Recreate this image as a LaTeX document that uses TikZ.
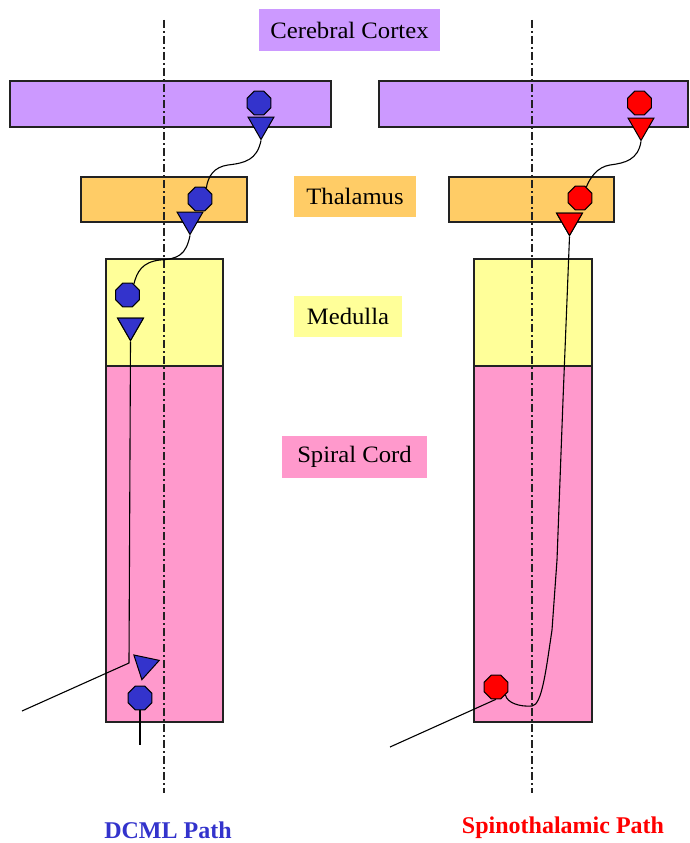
\documentclass[tikz,border=0pt]{standalone}
\usepackage{fontspec}
\setmainfont{Liberation Serif}
\newfontfamily\tagfont[FakeStretch=1.05]{Liberation Serif}
\usetikzlibrary{shapes.geometric}
\definecolor{cortexc}{HTML}{CC99FF}
\definecolor{thalc}{HTML}{FFCC66}
\definecolor{medc}{HTML}{FFFF99}
\definecolor{spinc}{HTML}{FF99CC}
\definecolor{dcml}{HTML}{3333CC}
\definecolor{spino}{HTML}{FF0000}
\definecolor{edgec}{HTML}{222222}
\begin{document}
\begin{tikzpicture}[x=1pt,y=-1pt,
 region/.style={draw=edgec, line width=1.2pt, rectangle, inner sep=0pt},
 tag/.style={rectangle, inner sep=0pt, font=\tagfont\fontsize{23.5}{26}\selectfont, text=black},
 midline/.style={draw=edgec, line width=1.1pt, dash pattern=on 8pt off 3pt on 2pt off 3pt},
 fibre/.style={draw=black, line width=1.1pt},
 soma/.style={regular polygon, regular polygon sides=8, minimum size=25.5pt, inner sep=0pt, draw=black, line width=1pt},
 term/.style={regular polygon, regular polygon sides=3, shape border rotate=180, minimum size=30pt, inner sep=0pt, draw=black, line width=1pt},
 pathlabel/.style={inner sep=0pt, font=\bfseries\fontsize{24}{26}\selectfont}
 ]
\useasboundingbox (0,0) rectangle (689,843);
\fill[white] (0,0) rectangle (689,843);

% brain regions
\node[region, fill=cortexc, minimum width=321pt, minimum height=46pt] (cortexL) at (170.5,104) {};
\node[region, fill=cortexc, minimum width=309pt, minimum height=46pt] (cortexR) at (533.5,104) {};
\node[region, fill=thalc, minimum width=166pt, minimum height=45pt] (thalL) at (164,199.5) {};
\node[region, fill=thalc, minimum width=165pt, minimum height=45pt] (thalR) at (531.5,199.5) {};
\node[region, fill=spinc, minimum width=117pt, minimum height=356pt] (spinL) at (164.5,544) {};
\node[region, fill=spinc, minimum width=118pt, minimum height=356pt] (spinR) at (533,544) {};
\node[region, fill=medc, minimum width=117pt, minimum height=107pt] (medL) at (164.5,312.5) {};
\node[region, fill=medc, minimum width=118pt, minimum height=107pt] (medR) at (533,312.5) {};

% labels
\node[tag, fill=cortexc, minimum width=181pt, minimum height=42pt] (lcortex) at (349.5,30) {Cerebral Cortex};
\node[tag, fill=thalc, minimum width=122pt, minimum height=41pt] (lthal) at (355,196.5) {Thalamus};
\node[tag, fill=medc, minimum width=108pt, minimum height=41pt] (lmed) at (348,316.5) {Medulla};
\node[tag, fill=spinc, minimum width=145pt, minimum height=42pt] (lspin) at (354.5,457) {Spiral Cord};

% midlines
\coordinate (mLt) at (164,20);
\coordinate (mLb) at (164,793);
\coordinate (mRt) at (532,20);
\coordinate (mRb) at (532,793);
\draw[midline] (mLt) -- (mLb);
\draw[midline] (mRt) -- (mRb);

% DCML neurons
\node[term, fill=dcml] (bt1) at (261,124.5) {};
\node[soma, fill=dcml] (bc1) at (259,103) {};
\node[term, fill=dcml] (bt2) at (190,219.5) {};
\node[soma, fill=dcml] (bc2) at (200,199) {};
\node[term, fill=dcml] (bt3) at (130.5,325.5) {};
\node[soma, fill=dcml] (bc3) at (127.5,295) {};
\node[term, fill=dcml, rotate=-12] (bt4) at (145,665) {};
\node[soma, fill=dcml] (bc4) at (140,698) {};

% spinothalamic neurons
\node[term, fill=spino] (rt1) at (641,125.5) {};
\node[soma, fill=spino] (rc1) at (639.5,103) {};
\node[term, fill=spino] (rt2) at (569.5,220.5) {};
\node[soma, fill=spino] (rc2) at (580,198) {};
\node[soma, fill=spino] (rc3) at (496,687) {};

% DCML fibres
\coordinate (k1) at (228,165);
\coordinate (k2) at (160,260);
\coordinate (k3) at (129,663);
\coordinate (k4) at (22,711);
\coordinate (k5) at (140,745);
\draw[fibre] (bt1.corner 1) .. controls (257,160) and (245,163) .. (k1)
  .. controls (214,167) and (208,176) .. (bc2.60);
\draw[fibre] (bt2.corner 1) .. controls (186,255) and (178,259) .. (k2)
  .. controls (142,262) and (137,272) .. (bc3.60);
\draw[fibre] (bt3.corner 1) -- (k3) -- (k4);
\draw[fibre] (bc4.south) -- (k5);

% spinothalamic fibres
\coordinate (r1) at (610,165);
\coordinate (r2) at (567,300);
\coordinate (r3) at (563,400);
\coordinate (r4) at (557,560);
\coordinate (r5) at (552,630);
\coordinate (r6) at (532,706);
\coordinate (r7) at (390,747);
\draw[fibre] (rt1.corner 1) .. controls (638,160) and (625,163) .. (r1)
  .. controls (597,167) and (590,178) .. (rc2.60);
\draw[fibre] (rt2.corner 1) -- (r2) -- (r3) -- (r4) -- (r5)
  .. controls (546,670) and (542,705) .. (r6)
  .. controls (520,707) and (507,703) .. (rc3.-40);
\draw[fibre] (rc3.south) -- (r7);

% redraw neuron markers on top of fibres
\node[term, fill=dcml] at (bt3) {};
\node[term, fill=spino] at (rt2) {};

% path titles
\node[pathlabel, text=dcml] (tdcml) at (168,830) {DCML Path};
\node[pathlabel, text=spino] (tspino) at (563,828) {Spinothalamic Path};
\end{tikzpicture}
\end{document}
